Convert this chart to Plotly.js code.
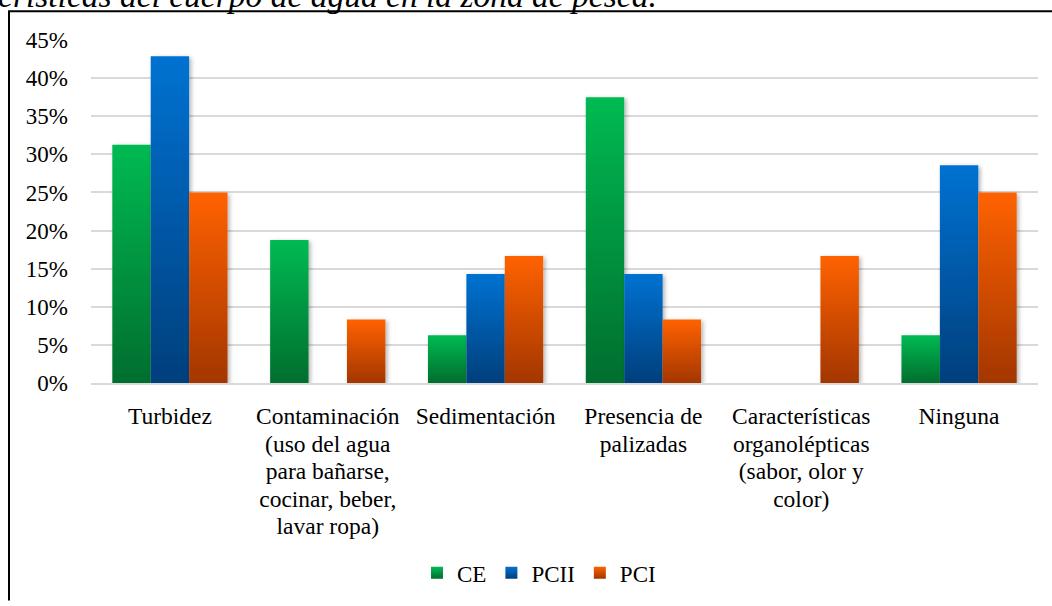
<!DOCTYPE html>
<html>
<head>
<meta charset="utf-8">
<script src="https://cdn.plot.ly/plotly-3.0.1.min.js"></script>
<style>
html,body{margin:0;padding:0;background:#fff;}
#chart{width:1052px;height:606px;}
</style>
</head>
<body>
<div id="chart"></div>
<script>
var categories = [
  "Turbidez",
  "Contaminación<br>(uso del agua<br>para bañarse,<br>cocinar, beber,<br>lavar ropa)",
  "Sedimentación",
  "Presencia de<br>palizadas",
  "Características<br>organolépticas<br>(sabor, olor y<br>color)",
  "Ninguna"
];
var seriesNames = ["CE", "PCII", "PCI"];
var valuesCE   = [0.3125, 0.1875, 0.0625, 0.375, 0, 0.0625];
var valuesPCII = [0.4286, 0, 0.1429, 0.1429, 0, 0.2857];
var valuesPCI  = [0.25, 0.0833, 0.1667, 0.0833, 0.1667, 0.25];
var tickValues = [0, 0.05, 0.10, 0.15, 0.20, 0.25, 0.30, 0.35, 0.40, 0.45];
var titleText = "Características del cuerpo de agua en la zona de pesca.";

var gradients = [
  {id: "gCE",   top: "#00BA52", bottom: "#006E2E"},
  {id: "gPCII", top: "#0072D2", bottom: "#003F7C"},
  {id: "gPCI",  top: "#FF6200", bottom: "#A33600"}
];

var allValues = [valuesCE, valuesPCII, valuesPCI];
var traces = allValues.map(function(v, i){
  return {
    type: "bar",
    name: seriesNames[i],
    x: categories,
    y: v,
    marker: {color: gradients[i].top, line: {width: 0}},
    hoverinfo: "none"
  };
});

var font = "Liberation Serif";
var L = 91, R = 14, T = 40, B = 219, W = 1052, H = 606;
var pw = W - L - R, ph = H - T - B;
function px(X){ return (X - L) / pw; }
function py(Y){ return (H - B - Y) / ph; }

var layout = {
  width: W, height: H,
  margin: {l: L, r: R, t: T, b: B, pad: 0},
  paper_bgcolor: "#ffffff",
  plot_bgcolor: "#ffffff",
  barmode: "group",
  bargap: 0.27,
  bargroupgap: 0,
  font: {family: font, size: 23, color: "#000000"},
  xaxis: {
    type: "category",
    tickfont: {family: font, size: 23.5, color: "#000"},
    showgrid: false,
    zeroline: false,
    showline: true,
    linecolor: "#D9D9D9",
    linewidth: 2,
    ticks: "",
    ticklabelstandoff: 11,
    fixedrange: true
  },
  yaxis: {
    range: [0, 0.45],
    tickvals: tickValues,
    tickformat: ".0%",
    tickfont: {family: font, size: 23, color: "#000"},
    showgrid: true,
    gridcolor: "#D9D9D9",
    gridwidth: 2,
    zeroline: false,
    showline: false,
    ticks: "",
    ticklabelstandoff: 22,
    fixedrange: true
  },
  showlegend: true,
  legend: {
    orientation: "h",
    x: px(539), xanchor: "center",
    y: py(579), yanchor: "middle",
    font: {family: font, size: 23, color: "#000"},
    itemwidth: 30,
    traceorder: "normal",
    bgcolor: "rgba(0,0,0,0)"
  },
  shapes: [
    {type: "line", xref: "paper", yref: "paper", x0: px(8), x1: px(1052), y0: py(11), y1: py(11), line: {color: "#000", width: 2}},
    {type: "line", xref: "paper", yref: "paper", x0: px(9), x1: px(9), y0: py(11), y1: py(607), line: {color: "#000", width: 2}}
  ],
  annotations: [
    {text: "<i>" + titleText + "</i>", xref: "paper", yref: "paper", x: px(659), xanchor: "right", y: py(16), yanchor: "bottom", showarrow: false, font: {family: font, size: 33.5, color: "#000"}}
  ]
};

Plotly.newPlot("chart", traces, layout, {displayModeBar: false, staticPlot: true}).then(function(gd){
  var svg = gd.querySelector("svg.main-svg");
  var ns = "http://www.w3.org/2000/svg";
  var defs = svg.querySelector("defs") || svg.insertBefore(document.createElementNS(ns, "defs"), svg.firstChild);
  gradients.forEach(function(g){
    var lg = document.createElementNS(ns, "linearGradient");
    lg.setAttribute("id", g.id);
    lg.setAttribute("x1", "0"); lg.setAttribute("y1", "0");
    lg.setAttribute("x2", "0"); lg.setAttribute("y2", "1");
    var s1 = document.createElementNS(ns, "stop");
    s1.setAttribute("offset", "0"); s1.setAttribute("stop-color", g.top);
    var s2 = document.createElementNS(ns, "stop");
    s2.setAttribute("offset", "1"); s2.setAttribute("stop-color", g.bottom);
    lg.appendChild(s1); lg.appendChild(s2);
    defs.appendChild(lg);
  });
  var flt = document.createElementNS(ns, "filter");
  flt.setAttribute("id", "barShadow");
  flt.setAttribute("x", "-20%"); flt.setAttribute("y", "-5%");
  flt.setAttribute("width", "150%"); flt.setAttribute("height", "115%");
  var ds = document.createElementNS(ns, "feDropShadow");
  ds.setAttribute("dx", "2"); ds.setAttribute("dy", "1.5");
  ds.setAttribute("stdDeviation", "2");
  ds.setAttribute("flood-color", "#000"); ds.setAttribute("flood-opacity", "0.3");
  flt.appendChild(ds);
  defs.appendChild(flt);

  var barTraces = gd.querySelectorAll(".barlayer .trace");
  barTraces.forEach(function(t, i){
    t.querySelectorAll("path").forEach(function(p){
      p.style.fill = "url(#" + gradients[i].id + ")";
      p.setAttribute("filter", "url(#barShadow)");
    });
  });
  var legTraces = gd.querySelectorAll(".legend .traces");
  legTraces.forEach(function(t, i){
    t.querySelectorAll(".legendpoints path").forEach(function(p){ p.style.fill = "url(#" + gradients[i].id + ")"; });
  });
  gd.querySelectorAll(".xtick text tspan.line").forEach(function(ts){
    var dy = ts.getAttribute("dy");
    if (dy && /em$/.test(dy)) {
      ts.setAttribute("dy", (parseFloat(dy) * 0.9) + "em");
    }
  });
});
</script>
</body>
</html>
